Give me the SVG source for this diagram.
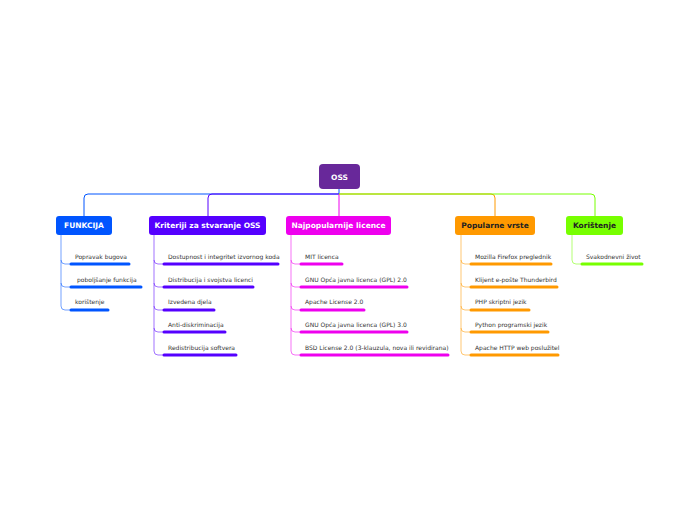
<svg xmlns="http://www.w3.org/2000/svg" width="697" height="520" viewBox="0 0 697 520">
<style>
.t{font-family:"DejaVu Sans",sans-serif;font-size:6px;fill:#333}
.h{font-family:"DejaVu Sans",sans-serif;font-size:7.5px;font-weight:bold;fill:#fff;text-anchor:middle}
.c{fill:none;stroke-width:1}
.b{stroke-width:3;stroke-linecap:round}
.s{fill:none;stroke-width:1;stroke-opacity:0.55}
</style>
<rect width="697" height="520" fill="#fff"/>
<g id="connectors">
<path class="c" stroke="#0055ff" d="M339 189V194H88Q84 194 84 198V216"/>
<path class="c" stroke="#5500ff" d="M339 194H212Q208 194 208 198V216"/>
<path class="c" stroke="#ee00ee" d="M339 194V216"/>
<path class="c" stroke="#ff9900" d="M339 194H491Q495 194 495 198V216"/>
<path class="c" stroke="#77ff00" d="M339 194H591Q595 194 595 198V216"/>
</g>
<g id="oss"><rect x="319" y="164" width="41" height="25" rx="4" fill="#68289a"/><text class="h" x="339.5" y="180" font-size="8">OSS</text></g>
<g id="funkcija">
<rect x="56" y="216" width="56" height="19" rx="3" fill="#0055ff"/><text class="h" x="84" y="228">FUNKCIJA</text>
<path class="s" stroke="#0055ff" d="M61 235V260Q61 264 65 264H70M61 260V283Q61 287 65 287H70M61 283V306Q61 310 65 310H70"/>
<g stroke="#0055ff" class="b"><line x1="71" y1="264" x2="129" y2="264"/><line x1="71" y1="287" x2="141" y2="287"/><line x1="71" y1="310" x2="108" y2="310"/></g>
<text class="t" x="75" y="259">Popravak bugova</text><text class="t" x="77" y="282">poboljšanje funkcija</text><text class="t" x="75" y="304">korištenje</text>
</g>
<g id="kriteriji">
<rect x="149" y="216" width="117" height="19" rx="3" fill="#5500ff"/><text class="h" x="207.5" y="228">Kriteriji za stvaranje OSS</text>
<path class="s" stroke="#5500ff" d="M154 235V260Q154 264 158 264H163M154 260V283Q154 287 158 287H163M154 283V306Q154 310 158 310H163M154 306V328Q154 332 158 332H163M154 328V351Q154 355 158 355H163"/>
<g stroke="#5500ff" class="b"><line x1="164" y1="264" x2="278" y2="264"/><line x1="164" y1="287" x2="253" y2="287"/><line x1="164" y1="310" x2="214" y2="310"/><line x1="164" y1="332" x2="225" y2="332"/><line x1="164" y1="355" x2="236" y2="355"/></g>
<text class="t" x="168" y="259">Dostupnost i integritet izvornog koda</text><text class="t" x="168" y="282">Distribucija i svojstva licenci</text><text class="t" x="168" y="304">Izvedena djela</text><text class="t" x="168" y="327">Anti-diskriminacija</text><text class="t" x="168" y="350">Redistribucija softvera</text>
</g>
<g id="najpop">
<rect x="286" y="216" width="105" height="19" rx="3" fill="#ee00ee"/><text class="h" x="338.5" y="228">Najpopularnije licence</text>
<path class="s" stroke="#ee00ee" d="M291 235V260Q291 264 295 264H300M291 260V283Q291 287 295 287H300M291 283V306Q291 310 295 310H300M291 306V328Q291 332 295 332H300M291 328V351Q291 355 295 355H300"/>
<g stroke="#ee00ee" class="b"><line x1="301" y1="264" x2="342" y2="264"/><line x1="301" y1="287" x2="407" y2="287"/><line x1="301" y1="310" x2="364" y2="310"/><line x1="301" y1="332" x2="407" y2="332"/><line x1="301" y1="355" x2="448" y2="355"/></g>
<text class="t" x="305" y="259">MIT licenca</text><text class="t" x="305" y="282">GNU Opća javna licenca (GPL) 2.0</text><text class="t" x="305" y="304">Apache License 2.0</text><text class="t" x="305" y="327">GNU Opća javna licenca (GPL) 3.0</text><text class="t" x="305" y="350">BSD License 2.0 (3-klauzula, nova ili revidirana)</text>
</g>
<g id="popularne">
<rect x="455" y="216" width="80" height="19" rx="3" fill="#ff9900"/><text class="h" x="495" y="228" fill="#222" style="fill:#222">Popularne vrste</text>
<path class="s" stroke="#ff9900" d="M461 235V260Q461 264 465 264H470M461 260V283Q461 287 465 287H470M461 283V306Q461 310 465 310H470M461 306V328Q461 332 465 332H470M461 328V351Q461 355 465 355H470"/>
<g stroke="#ff9900" class="b"><line x1="471" y1="264" x2="551" y2="264"/><line x1="471" y1="287" x2="557" y2="287"/><line x1="471" y1="310" x2="529" y2="310"/><line x1="471" y1="332" x2="548" y2="332"/><line x1="471" y1="355" x2="558" y2="355"/></g>
<text class="t" x="475" y="259">Mozilla Firefox preglednik</text><text class="t" x="475" y="282">Klijent e-pošte Thunderbird</text><text class="t" x="475" y="304">PHP skriptni jezik</text><text class="t" x="475" y="327">Python programski jezik</text><text class="t" x="475" y="350">Apache HTTP web poslužitel</text>
</g>
<g id="koristenje">
<rect x="566" y="216" width="57" height="19" rx="3" fill="#77ff00"/><text class="h" x="594.5" y="228" style="fill:#222">Korištenje</text>
<path class="s" stroke="#77ff00" d="M572 235V260Q572 264 576 264H581"/>
<line stroke="#77ff00" class="b" x1="582" y1="264" x2="642" y2="264"/>
<text class="t" x="586" y="259">Svakodnevni život</text>
</g>
</svg>
